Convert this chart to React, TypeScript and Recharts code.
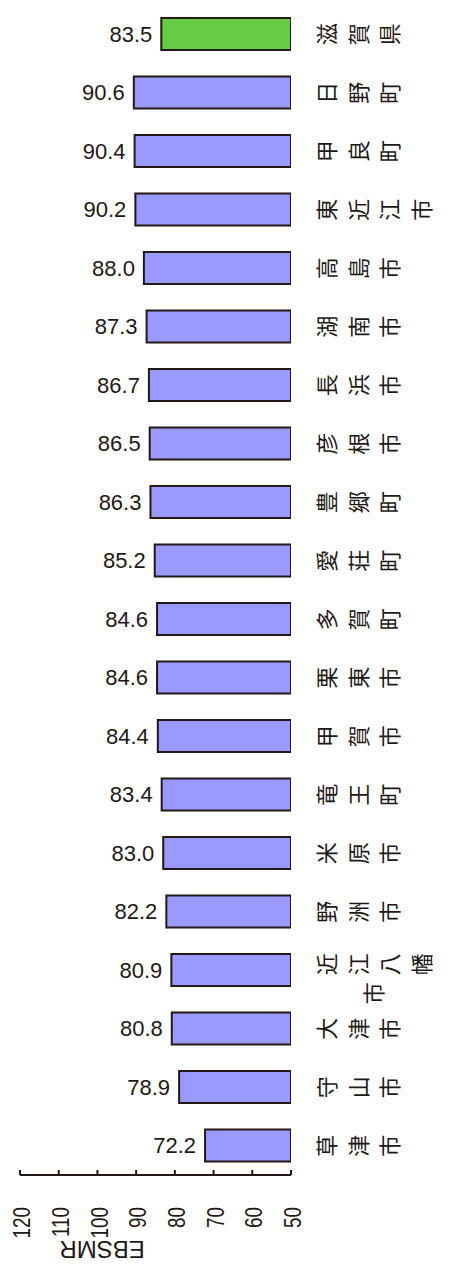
import { BarChart, Bar, XAxis, YAxis, LabelList, Cell, Label } from "recharts"

const cities = [
  "滋賀県", "日野町", "甲良町", "東近江市", "高島市", "湖南市", "長浜市", "彦根市", "豊郷町", "愛荘町",
  "多賀町", "栗東市", "甲賀市", "竜王町", "米原市", "野洲市", "近江八幡市", "大津市", "守山市", "草津市",
]
const ebsmr = [83.5, 90.6, 90.4, 90.2, 88.0, 87.3, 86.7, 86.5, 86.3, 85.2, 84.6, 84.6, 84.4, 83.4, 83.0, 82.2, 80.9, 80.8, 78.9, 72.2]
const valueTicks = [50, 60, 70, 80, 90, 100, 110, 120]
const highlight = "滋賀県"
const axisTitle = "EBSMR"

const data = cities.map((name, i) => ({ name, value: ebsmr[i] }))
const bandEdges = [...cities.map((_, i) => i), cities.length]

const ink = "#231815"
const numFont = "'Liberation Sans', Arial, sans-serif"
const cjkFont = "'Noto Sans CJK JP', 'Noto Sans CJK SC', sans-serif"

// each glyph is turned on its side, like the original sheet
function CityTick(props: any) {
  const x = Number(props.x)
  const y = Number(props.y)
  const chars: string[] = Array.from(String(props.payload.value))
  const perRow = 4
  const rows: string[][] = []
  for (let i = 0; i < chars.length; i += perRow) rows.push(chars.slice(i, i + perRow))
  const step = 31.5
  const lineGap = 29
  const firstRow = rows.length > 1 ? -6 : 0
  return (
    <g>
      {rows.map((row, r) => {
        const cy = y + firstRow + r * lineGap
        const shift = r === 0 ? 0 : ((rows[0].length - row.length) * step) / 2
        return row.map((ch, i) => {
          const cx = x + 34 + shift + i * step
          return (
            <g key={`${r}-${i}`} transform={`translate(${cx},${cy}) rotate(-90)`}>
              <text x={0} y={0} textAnchor="middle" dominantBaseline="central" fontSize={22} fill={ink} fontFamily={cjkFont}>
                {ch}
              </text>
            </g>
          )
        })
      })}
    </g>
  )
}

function ValueTick(props: any) {
  const x = Number(props.x) + 2
  const top = Number(props.y) + 37
  return (
    <g transform={`translate(${x},${top}) rotate(-90) scale(0.82,1)`}>
      <text x={0} y={0} textAnchor="end" dominantBaseline="central" fontSize={23} fill={ink} fontFamily={numFont}>
        {props.payload.value}
      </text>
    </g>
  )
}

function ValueLabel({ x, y, width, height, value }: any) {
  const left = Math.min(Number(x), Number(x) + Number(width))
  return (
    <text
      x={left - 9}
      y={Number(y) + Number(height) / 2}
      textAnchor="end"
      dominantBaseline="central"
      fontSize={22}
      fill={ink}
      fontFamily={numFont}
    >
      {Number(value).toFixed(1)}
    </text>
  )
}

function TitleLabel({ viewBox }: any) {
  const cx = viewBox.x + 82
  const cy = viewBox.y + 74
  return (
    <g transform={`translate(${cx},${cy}) rotate(180)`}>
      <text x={0} y={0} textAnchor="middle" dominantBaseline="central" fontSize={24} fill={ink} fontFamily={numFont}>
        {axisTitle}
      </text>
    </g>
  )
}

export default function App() {
  return (
    <div style={{ position: "absolute", left: 0, top: 0, background: "#fff" }}>
      <BarChart width={471} height={1268} data={data} layout="vertical" margin={{ top: 5, right: 0, bottom: 0, left: 20 }}>
        <XAxis
          xAxisId="val"
          type="number"
          domain={[50, 120]}
          ticks={valueTicks}
          interval={0}
          reversed
          allowDataOverflow
          height={93}
          tickSize={-5}
          tickMargin={0}
          axisLine={{ stroke: ink, strokeWidth: 2 }}
          tickLine={{ stroke: ink, strokeWidth: 2 }}
          tick={<ValueTick />}
        >
          <Label content={<TitleLabel />} />
        </XAxis>
        <YAxis
          yAxisId="grid"
          type="number"
          domain={[0, cities.length]}
          ticks={bandEdges}
          interval={0}
          allowDataOverflow
          orientation="right"
          width={0}
          tickSize={-5}
          tick={false}
          axisLine={{ stroke: ink, strokeWidth: 2 }}
          tickLine={{ stroke: ink, strokeWidth: 2 }}
        />
        <YAxis
          yAxisId="cat"
          type="category"
          dataKey="name"
          orientation="right"
          width={180}
          interval={0}
          axisLine={false}
          tickLine={false}
          tickSize={0}
          tickMargin={0}
          tick={<CityTick />}
        />
        <Bar dataKey="value" xAxisId="val" yAxisId="cat" barSize={32} stroke={ink} strokeWidth={2} isAnimationActive={false}>
          {data.map((d) => (
            <Cell key={d.name} fill={d.name === highlight ? "#66CC44" : "#9999FF"} />
          ))}
          <LabelList dataKey="value" content={<ValueLabel />} />
        </Bar>
      </BarChart>
    </div>
  )
}
